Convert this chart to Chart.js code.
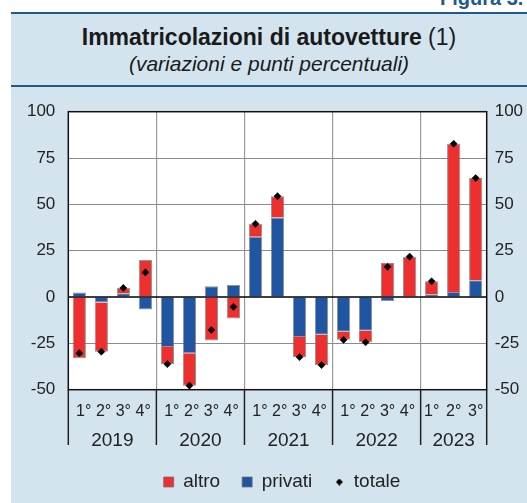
<!DOCTYPE html>
<html><head><meta charset="utf-8">
<script src="https://cdn.jsdelivr.net/npm/chart.js@4"></script>
<style>
html,body{margin:0;padding:0;width:527px;height:503px;overflow:hidden;background:#fff;font-family:"Liberation Sans",Arial,sans-serif;}
#panel{position:absolute;left:11px;top:12px;width:516px;height:491px;background:#d3e4ee;border-top:2px solid #1d5b8c;box-sizing:border-box;}
#rule{position:absolute;left:11px;top:85px;width:516px;height:2px;background:#1d5b8c;}
#fig{position:absolute;left:440px;top:-12px;font:bold 20px/20px "Liberation Sans",Arial,sans-serif;color:#1d5b8c;white-space:nowrap;}
#title{position:absolute;left:11px;width:516px;top:25.5px;text-align:center;font:bold 23px/23px "Liberation Sans",Arial,sans-serif;color:#1a1a1a;white-space:nowrap;}
#title span{font-weight:normal;}
#sub{position:absolute;left:11px;width:516px;top:52.7px;text-align:center;font:italic 21px/21px "Liberation Sans",Arial,sans-serif;color:#1a1a1a;white-space:nowrap;}
#c{position:absolute;left:0;top:0;}
</style></head>
<body>
<div id="panel"></div>
<div id="rule"></div>
<div id="fig">Figura 3.</div>
<div id="title">Immatricolazioni di autovetture <span>(1)</span></div>
<div id="sub">(variazioni e punti percentuali)</div>
<canvas id="c" width="527" height="503"></canvas>
<script>
const years = ['2019', '2020', '2021', '2022', '2023'];
const quartersPerYear = [4, 4, 4, 4, 3];
const quarterLabels = ['1°', '2°', '3°', '4°'];
const seriesNames = ['altro', 'privati', 'totale'];
const privati = [2.5, -3, 2, -6.7, -26.9, -30.4, 5.8, 6.5, 32.5, 42.9, -21.5, -20.4, -18.7, -18.2, -2.2, 0.3, 1.5, 2.7, 9.1];
const altro = [-33, -26.5, 3, 20, -9.3, -17.5, -23.5, -11.6, 7, 11.5, -10.9, -16.3, -4.4, -6.2, 18.4, 21.5, 7, 80, 55.1];
const totale = [-30.3, -29.5, 4.9, 13.3, -36.2, -47.8, -17.8, -5.3, 39.5, 54.4, -32.4, -36.7, -23.1, -24.4, 16.3, 21.8, 8.5, 82.7, 64.2];
const yMin = -50, yMax = 100, yStep = 25;

const categories = [];
const catQuarter = [];
const catFullYear = [];
years.forEach((y, i) => {
  for (let q = 0; q < quartersPerYear[i]; q++) {
    categories.push(quarterLabels[q]);
    catQuarter.push(q);
    catFullYear.push(quartersPerYear[i] === 4);
  }
});
// quarter labels of full years are typeset slightly closer together
const qPad = [['  ', ''], [' ', ''], ['', ''], ['', ' ']];

const RED = '#ee2f2f', BLUE = '#1f55a3', TXT = '#222';
const FONT = '"Liberation Sans", Arial, sans-serif';

function diamondImg(size) {
  const c = document.createElement('canvas'); c.width = c.height = size;
  const g = c.getContext('2d'); g.fillStyle = '#000'; g.beginPath();
  g.moveTo(size / 2, 0); g.lineTo(size, size / 2); g.lineTo(size / 2, size); g.lineTo(0, size / 2);
  g.closePath(); g.fill(); return c;
}
const legendDiamond = diamondImg(7);

const deco = {
  id: 'deco',
  afterLayout(chart) {
    if (chart.legend) { chart.legend.left += 4.5; chart.legend.right += 4.5; }
  },
  beforeDraw(chart) {
    const {ctx, chartArea: a} = chart;
    ctx.save(); ctx.fillStyle = '#fff';
    ctx.fillRect(a.left, a.top, a.right - a.left, a.bottom - a.top);
    ctx.restore();
  },
  afterDatasetsDraw(chart) {
    const {ctx, chartArea: a, scales} = chart;
    const y0 = scales.y.getPixelForValue(0);
    ctx.save();
    ctx.strokeStyle = '#000'; ctx.lineWidth = 1.5;
    ctx.beginPath(); ctx.moveTo(a.left, y0); ctx.lineTo(a.right, y0); ctx.stroke();
    ctx.strokeStyle = '#111'; ctx.lineWidth = 1.5;
    ctx.strokeRect(a.left, a.top, a.right - a.left, a.bottom - a.top);
    const x = scales.x;
    const catW = (a.right - a.left) / categories.length;
    ctx.strokeStyle = '#222'; ctx.lineWidth = 1.5;
    let start = 0;
    const bounds = [];
    quartersPerYear.forEach((n) => { bounds.push(start); start += n; });
    bounds.push(categories.length);
    bounds.forEach((b) => {
      const px = b === categories.length ? a.right : x.getPixelForValue(b) - catW / 2;
      ctx.beginPath(); ctx.moveTo(px, a.bottom); ctx.lineTo(px, 445); ctx.stroke();
    });
    ctx.fillStyle = TXT; ctx.font = '19px ' + FONT; ctx.textAlign = 'center'; ctx.textBaseline = 'alphabetic';
    years.forEach((yr, i) => {
      const l = x.getPixelForValue(bounds[i]) - catW / 2;
      const r = x.getPixelForValue(bounds[i + 1] - 1) + catW / 2;
      ctx.fillText(yr, (l + r) / 2, 446);
    });
    ctx.restore();
  }
};

const legendOrder = {altro: 0, privati: 1, totale: 2};

new Chart(document.getElementById('c'), {
  data: {
    labels: categories,
    datasets: [
      {type: 'bar', label: seriesNames[1], data: privati, backgroundColor: BLUE, borderColor: 'rgba(110,110,110,0.75)', borderWidth: 1, stack: 's', barPercentage: 0.6, categoryPercentage: 1},
      {type: 'bar', label: seriesNames[0], data: altro, backgroundColor: RED, borderColor: 'rgba(110,110,110,0.75)', borderWidth: 1, stack: 's', barPercentage: 0.6, categoryPercentage: 1},
      {type: 'line', label: seriesNames[2], data: totale, showLine: false, pointStyle: 'rectRot', pointRadius: 3.6, pointHoverRadius: 3.6, backgroundColor: '#000', borderColor: '#000', pointBorderWidth: 0.5, order: -1}
    ]
  },
  options: {
    responsive: false,
    animation: false,
    events: [],
    layout: {padding: {top: 111.7, left: 0, right: 0, bottom: 1.5}},
    scales: {
      x: {
        stacked: true,
        offset: true,
        grid: {
          offset: true, drawTicks: false,
          color: (c) => (c.index > 0 && c.index % 4 === 0 && c.index < categories.length) ? '#9a9a9a' : 'rgba(0,0,0,0)',
          lineWidth: 1.2
        },
        border: {display: false},
        ticks: {
          color: TXT, font: {family: FONT, size: 16}, padding: 12, maxRotation: 0, autoSkip: false,
          callback: (v, i) => {
            const lab = categories[i];
            if (!catFullYear[i]) return lab;
            const p = qPad[catQuarter[i]];
            return p[0] + lab + p[1];
          }
        },
        afterFit: (s) => { s.height = 60.8; }
      },
      y: {
        stacked: true,
        position: 'left',
        min: yMin, max: yMax,
        grid: {drawTicks: false, color: (c) => c.tick && c.tick.value === 0 ? 'rgba(0,0,0,0)' : '#8c8c8c', lineWidth: 1},
        border: {display: false},
        ticks: {stepSize: yStep, color: TXT, font: {family: FONT, size: 17}, padding: 13},
        afterFit: (s) => { s.width = 68.3; }
      },
      y2: {
        position: 'right',
        display: true,
        min: yMin, max: yMax,
        grid: {display: false, drawTicks: false},
        border: {display: false},
        ticks: {stepSize: yStep, color: TXT, font: {family: FONT, size: 17}, padding: 8},
        afterFit: (s) => { s.width = 40.3; }
      }
    },
    plugins: {
      legend: {
        position: 'bottom',
        fullSize: false,
        labels: {
          color: TXT,
          font: {family: FONT, size: 19},
          usePointStyle: true,
          boxWidth: 10, boxHeight: 10,
          padding: 22,
          generateLabels(chart) {
            const items = Chart.defaults.plugins.legend.labels.generateLabels(chart);
            items.forEach((it) => {
              if (it.text === 'totale') { it.pointStyle = legendDiamond; it.lineWidth = 0; }
              else { it.pointStyle = 'rect'; it.lineWidth = 1; it.strokeStyle = 'rgba(110,110,110,0.75)'; }
            });
            return items;
          },
          sort: (a, b) => legendOrder[a.text] - legendOrder[b.text]
        }
      },
      tooltip: {enabled: false}
    }
  },
  plugins: [deco]
});
</script>
</body></html>
